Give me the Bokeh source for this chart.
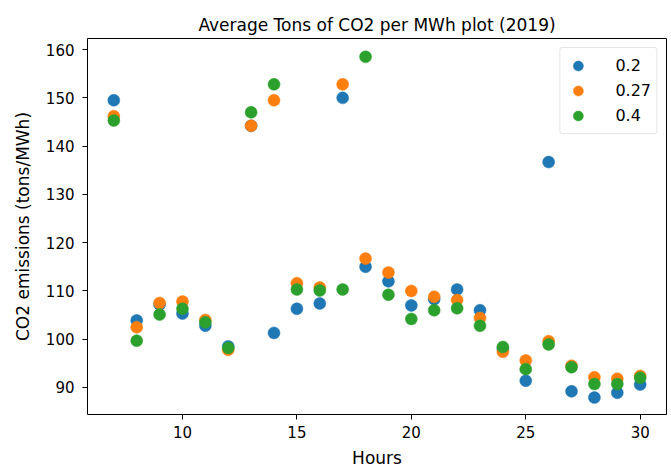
from bokeh.plotting import figure
from bokeh.models import FixedTicker, Range1d, Legend, LegendItem
from bokeh.embed import file_html
from bokeh.resources import INLINE

hours = [7, 8, 9, 10, 11, 12, 13, 14, 15, 16, 17, 18, 19, 20, 21, 22, 23, 24, 25, 26, 27, 28, 29, 30]
s_02 = [149.5, 103.9, 107.2, 105.3, 102.8, 98.5, 144.2, 101.3, 106.3, 107.4, 150.0, 115.0,
        112.0, 107.0, 108.3, 110.3, 106.0, 98.0, 91.4, 136.7, 89.2, 87.9, 88.9, 90.6]
s_027 = [146.2, 102.5, 107.5, 107.8, 104.0, 97.8, 144.2, 149.5, 111.6, 110.7, 152.8, 116.7,
         113.8, 110.0, 108.8, 108.1, 104.4, 97.4, 95.6, 99.6, 94.5, 92.1, 91.8, 92.4]
s_04 = [145.3, 99.7, 105.1, 106.3, 103.5, 98.2, 147.0, 152.8, 110.3, 110.1, 110.3, 158.5,
        109.2, 104.2, 106.0, 106.4, 102.8, 98.4, 93.8, 98.9, 94.2, 90.7, 90.7, 92.0]
labels = ["0.2", "0.27", "0.4"]
colors = ["#1f77b4", "#ff7f0e", "#2ca02c"]
x_ticks = [10, 15, 20, 25, 30]
y_ticks = [90, 100, 110, 120, 130, 140, 150, 160]

FONT = "DejaVu Sans"

p = figure(width=671, height=470, output_backend="svg", toolbar_location=None,
           title="Average Tons of CO2 per MWh plot (2019)",
           x_range=Range1d(5.85, 31.15), y_range=Range1d(84.4, 162.3),
           min_border_left=87, min_border_right=5, min_border_top=38, min_border_bottom=55)

p.title.align = "center"
p.title.text_font = FONT
p.title.text_font_size = "17px"
p.title.text_font_style = "normal"
p.title.text_color = "#000000"
p.title.offset = 0
p.title.standoff = 8

p.grid.visible = False
p.outline_line_color = "#000000"
p.outline_line_width = 1
p.background_fill_color = "#ffffff"
p.border_fill_color = "#ffffff"

for ax in (p.xaxis[0], p.yaxis[0]):
    ax.axis_line_color = None
    ax.major_tick_line_color = "#000000"
    ax.major_tick_out = 5
    ax.major_tick_in = 0
    ax.minor_tick_line_color = None
    ax.major_label_text_font = FONT
    ax.major_label_text_font_size = "15px"
    ax.major_label_text_color = "#000000"
    ax.axis_label_text_font = FONT
    ax.axis_label_text_font_size = "17px"
    ax.axis_label_text_font_style = "normal"
    ax.axis_label_text_color = "#000000"

p.xaxis.ticker = FixedTicker(ticks=x_ticks)
p.yaxis.ticker = FixedTicker(ticks=y_ticks)
p.xaxis.axis_label = "Hours"
p.yaxis.axis_label = "CO2 emissions (tons/MWh)"
p.xaxis.axis_label_standoff = 7
p.yaxis.axis_label_standoff = 10
p.xaxis.major_label_standoff = 6
p.yaxis.major_label_standoff = 8

items = []
for vals, lab, col in zip([s_02, s_027, s_04], labels, colors):
    r = p.scatter(hours, vals, size=12, fill_color=col, line_color=col, line_width=0.5)
    items.append(LegendItem(label=lab, renderers=[r]))

legend = Legend(items=items, location="top_right")
legend.label_text_font = FONT
legend.label_text_font_size = "16px"
legend.label_text_color = "#000000"
legend.border_line_color = "#cccccc"
legend.border_line_width = 1
legend.border_radius = 3
legend.margin = 9
legend.padding = 5
legend.spacing = 0
legend.glyph_width = 25
legend.glyph_height = 25
legend.label_height = 25
legend.label_standoff = 25
p.add_layout(legend)

open("out.html", "w").write(file_html(p, INLINE))
